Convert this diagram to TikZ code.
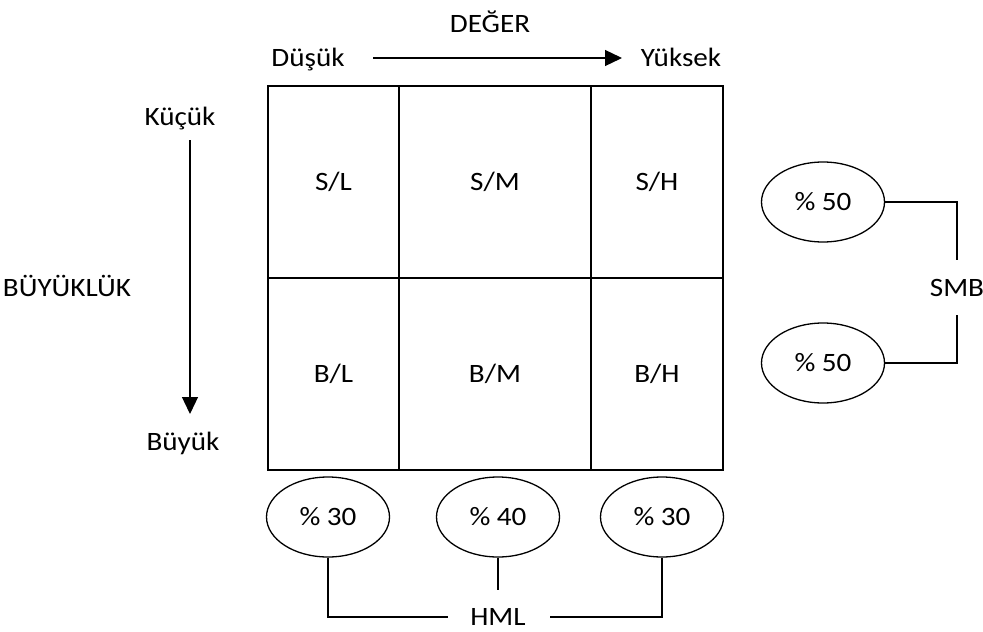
\documentclass[tikz,border=0pt]{standalone}
\usepackage{fontspec}
\setmainfont[FakeStretch=1.1]{Carlito}
\usetikzlibrary{shapes.geometric,arrows.meta}
\tikzset{
  txt/.style={font=\fontsize{26.5}{30}\selectfont, text height=20pt, text depth=4pt},
  lbl/.style={txt, inner sep=0pt, anchor=center},
  cell/.style={txt, draw, line width=1.6pt, minimum width=#1, minimum height=192pt, inner sep=0pt},
  oval/.style={txt, draw, ellipse, line width=1.3pt, minimum width=123pt, minimum height=80pt, inner sep=0pt},
  conn/.style={line width=1.4pt},
  arr/.style={line width=1.3pt, -{Triangle[length=17pt,width=16pt]}}
}
\begin{document}
\begin{tikzpicture}[x=1pt,y=-1pt]
\useasboundingbox (0,0) rectangle (983,632);
% header
\node[lbl] (deger) at (490,24) {DEĞER};
\node[lbl] (dusuk) at (308,58) {Düşük};
\node[lbl] (yuksek) at (681,58) {Yüksek};
\coordinate (ha) at (373,58);
\coordinate (hb) at (622,58);
\draw[arr] (ha) -- (hb);
% left
\node[lbl] (kucuk) at (180,117) {Küçük};
\node[lbl] (buyuk) at (183,442) {Büyük};
\node[lbl] (buyukluk) at (67,288) {BÜYÜKLÜK};
\coordinate (va) at (190,140);
\coordinate (vb) at (190,414);
\draw[arr] (va) -- (vb);
% grid
\node[cell=131pt] (SL) at (333.5,182) {S/L};
\node[cell=192pt] (SM) at (495,182) {S/M};
\node[cell=132pt] (SH) at (657,182) {S/H};
\node[cell=131pt] (BL) at (333.5,374) {B/L};
\node[cell=192pt] (BM) at (495,374) {B/M};
\node[cell=132pt] (BH) at (657,374) {B/H};
% bottom ellipses
\node[oval] (e1) at (328,517) {\% 30};
\node[oval] (e2) at (498,517) {\% 40};
\node[oval] (e3) at (662,517) {\% 30};
\node[lbl] (hml) at (498,617) {HML};
\coordinate (hl) at (448,617);
\coordinate (hr) at (550,617);
\coordinate (ht) at (498,590);
\draw[conn] (e1.south) |- (hl);
\draw[conn] (hr) -| (e3.south);
\draw[conn] (e2.south) -- (ht);
% right ellipses
\node[oval] (s1) at (823,202) {\% 50};
\node[oval] (s2) at (823,363) {\% 50};
\node[lbl] (smb) at (957,288) {SMB};
\coordinate (st) at (957,260);
\coordinate (sb) at (957,315);
\draw[conn] (s1.east) -| (st);
\draw[conn] (sb) |- (s2.east);
\end{tikzpicture}
\end{document}
